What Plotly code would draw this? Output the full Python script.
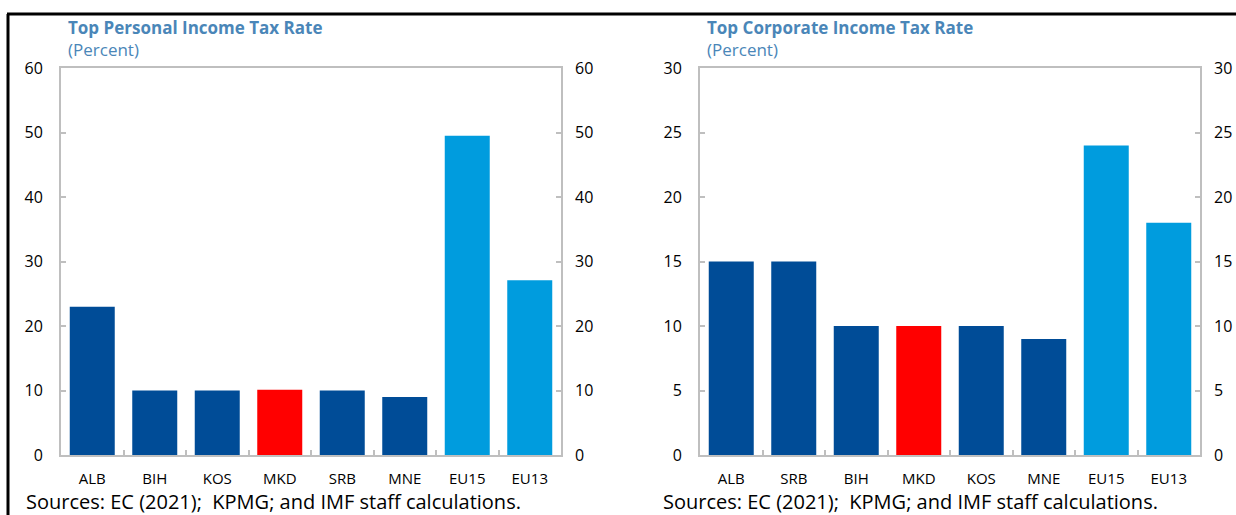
import plotly.graph_objects as go

W, H = 1236, 515

pit_categories = ["ALB", "BIH", "KOS", "MKD", "SRB", "MNE", "EU15", "EU13"]
pit_values = [23, 10, 10, 10.1, 10, 9, 49.5, 27.1]

cit_categories = ["ALB", "SRB", "BIH", "MKD", "KOS", "MNE", "EU15", "EU13"]
cit_values = [15, 15, 10, 10, 10, 9, 24, 18]

pit_ticks = [0, 10, 20, 30, 40, 50, 60]
cit_ticks = [0, 5, 10, 15, 20, 25, 30]

titles = ["Top Personal Income Tax Rate", "Top Corporate Income Tax Rate"]
subtitle = "(Percent)"
source = "Sources: EC (2021);\u00a0 KPMG; and IMF staff calculations."

DARK = "#004C97"
RED = "#FF0000"
LIGHT = "#009CDE"
TITLE_C = "#4A86B8"
FRAME = "#BFBFBF"
FONT = "Open Sans"


def colors_for(cats):
    out = []
    for c in cats:
        if c == "MKD":
            out.append(RED)
        elif c.startswith("EU"):
            out.append(LIGHT)
        else:
            out.append(DARK)
    return out


def px(x):
    return x / W


def py(y):
    return 1 - y / H


fig = go.Figure()

fig.add_trace(go.Bar(x=pit_categories, y=pit_values, marker_color=colors_for(pit_categories),
                     marker_line_width=0, xaxis="x", yaxis="y", showlegend=False))
fig.add_trace(go.Scatter(x=pit_categories, y=pit_values, mode="markers", marker_opacity=0,
                         xaxis="x", yaxis="y2", showlegend=False, hoverinfo="skip"))
fig.add_trace(go.Bar(x=cit_categories, y=cit_values, marker_color=colors_for(cit_categories),
                     marker_line_width=0, xaxis="x2", yaxis="y3", showlegend=False))
fig.add_trace(go.Scatter(x=cit_categories, y=cit_values, mode="markers", marker_opacity=0,
                         xaxis="x2", yaxis="y4", showlegend=False, hoverinfo="skip"))

ydom = [py(455), py(68)]
tickfont = dict(family=FONT, size=16, color="#000000")
xtickfont = dict(family=FONT, size=15, color="#000000")

common_x = dict(showline=True, mirror=True, linecolor=FRAME, linewidth=2, ticks="inside",
                tickson="boundaries", ticklen=5, tickcolor=FRAME, tickwidth=2,
                tickfont=xtickfont, showgrid=False, zeroline=False, ticklabelstandoff=9,
                fixedrange=True, automargin=False)


def yax(ticks, side, overlay=None, anchor=None):
    d = dict(range=[0, ticks[-1]], tickvals=ticks, ticks="inside", ticklen=5, tickcolor=FRAME,
             tickwidth=2, tickfont=tickfont, showgrid=False, zeroline=False, domain=ydom,
             side=side, ticklabelstandoff=13, fixedrange=True, automargin=False)
    if overlay:
        d.update(overlaying=overlay, showline=False, anchor=anchor)
    else:
        d.update(showline=True, mirror=True, linecolor=FRAME, linewidth=2, anchor=anchor)
    return d


fig.update_layout(
    width=W, height=H, autosize=False,
    margin=dict(l=0, r=0, t=0, b=0, pad=0, autoexpand=False),
    paper_bgcolor="white", plot_bgcolor="white",
    bargap=0.28,
    xaxis=dict(domain=[px(61), px(561)], anchor="y", **common_x),
    xaxis2=dict(domain=[px(700), px(1200)], anchor="y3", **common_x),
    yaxis=yax(pit_ticks, "left", anchor="x"),
    yaxis2=yax(pit_ticks, "right", overlay="y", anchor="x"),
    yaxis3=yax(cit_ticks, "left", anchor="x2"),
    yaxis4=yax(cit_ticks, "right", overlay="y3", anchor="x2"),
)

shapes = [
    dict(type="line", xref="paper", yref="paper", x0=px(7), x1=1, y0=py(14), y1=py(14),
         line=dict(color="black", width=3)),
    dict(type="line", xref="paper", yref="paper", x0=px(8), x1=px(8), y0=0, y1=py(14),
         line=dict(color="black", width=3)),
]
fig.update_layout(shapes=shapes)

ann = []
for t, x0 in zip(titles, [66, 705]):
    ann.append(dict(text=f"<b>{t}</b>", x=px(x0), y=py(27), xref="paper", yref="paper",
                    xanchor="left", yanchor="middle", showarrow=False,
                    font=dict(family=FONT, size=17, color=TITLE_C)))
    ann.append(dict(text=subtitle, x=px(x0), y=py(50), xref="paper", yref="paper",
                    xanchor="left", yanchor="middle", showarrow=False,
                    font=dict(family=FONT, size=17, color=TITLE_C)))
for x0 in [24, 661]:
    ann.append(dict(text=source, x=px(x0), y=py(501), xref="paper", yref="paper",
                    xanchor="left", yanchor="middle", showarrow=False,
                    font=dict(family=FONT, size=20, color="#000000")))
fig.update_layout(annotations=ann)

fig.write_html("out.html",
               config=dict(displayModeBar=False, responsive=False),
               post_script="document.body.style.margin='0';document.body.style.overflow='hidden';")
